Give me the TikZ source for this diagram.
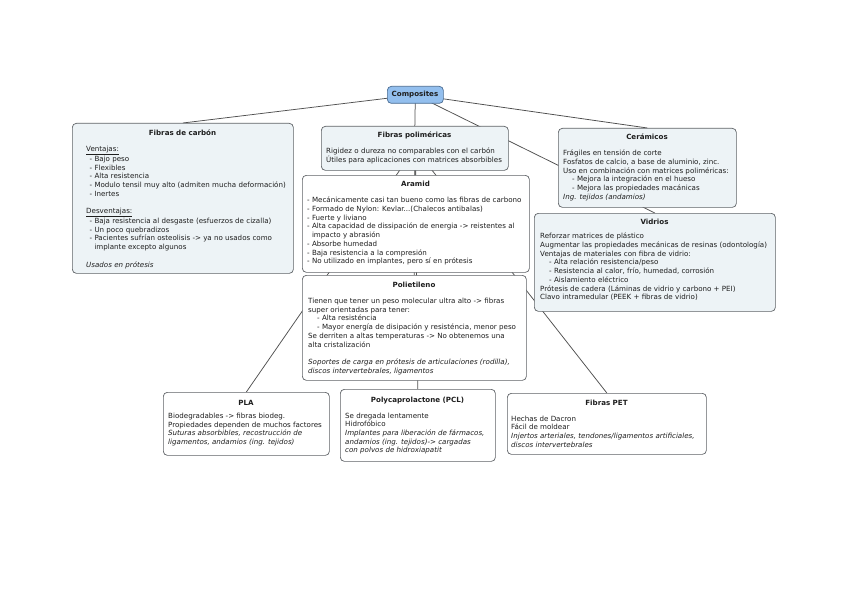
\documentclass[tikz,border=0pt]{standalone}
\usepackage{fontspec}
\setmainfont{DejaVu Sans}
\usetikzlibrary{backgrounds}
\pgfdeclarelayer{bg}
\pgfsetlayers{bg,background,main}
\definecolor{boxline}{HTML}{5E6266}
\definecolor{lightfill}{HTML}{EDF3F6}
\definecolor{compfill}{HTML}{93BFEE}
\definecolor{compline}{HTML}{4A6C92}
\definecolor{linecol}{HTML}{505050}
\definecolor{txtcol}{HTML}{1E1E1E}
\newcommand\fs{\fontsize{7.1pt}{8.7pt}\selectfont}
\newcommand\ind[1]{\hspace*{#1pt}}
\tikzset{
  box/.style={draw=boxline, rounded corners=4pt, line width=0.7pt, anchor=north west, inner sep=0pt},
  lightbox/.style={box, fill=lightfill},
  plainbox/.style={box, fill=white},
  txt/.style={anchor=north west, inner sep=0pt, align=left, font=\fs, text=txtcol,
    execute at begin node={\rule{0pt}{7pt}}, yshift=7pt},
  ttl/.style={anchor=base, inner sep=0pt, font=\fs\bfseries, text=txtcol},
  link/.style={draw=linecol, line width=0.75pt}
}
\begin{document}
\begin{tikzpicture}[x={(1pt,0pt)}, y={(0pt,-1pt)}]
\begin{pgfonlayer}{bg}
\fill[white] (0,0) rectangle (848,599);
\end{pgfonlayer}
\useasboundingbox (0,0) rectangle (848,599);

% boxes
\node[box, fill=compfill, draw=compline, minimum width=56pt, minimum height=17pt] (comp) at (387,86) {};
\node[lightbox, minimum width=221pt, minimum height=150pt] (carbon) at (72,123) {};
\node[lightbox, minimum width=187pt, minimum height=44pt] (fp) at (321,126) {};
\node[plainbox, minimum width=227pt, minimum height=97pt] (aramid) at (302,175) {};
\node[plainbox, minimum width=224pt, minimum height=105pt] (poli) at (302,275) {};
\node[lightbox, minimum width=178pt, minimum height=79pt] (cer) at (558,128) {};
\node[lightbox, minimum width=241pt, minimum height=98pt] (vid) at (534,213) {};
\node[plainbox, minimum width=166pt, minimum height=63pt] (pla) at (163,392) {};
\node[plainbox, minimum width=155pt, minimum height=72pt] (pcl) at (340,389) {};
\node[plainbox, minimum width=199pt, minimum height=61pt] (pet) at (507,393) {};

% connectors
\begin{pgfonlayer}{background}
\draw[link] (comp.center) -- (carbon.north);
\draw[link] (comp.center) -- (fp.north);
\draw[link] (comp.center) -- (cer.north);
\draw[link] (comp.center) -- (vid.north);
\draw[link] (fp.center) -- (aramid.north);
\draw[link] (fp.center) -- (poli.north);
\draw[link] (fp.center) -- (pla.north);
\draw[link] (fp.center) -- (pcl.north);
\draw[link] (fp.center) -- (pet.north);
\end{pgfonlayer}

% titles
\node[ttl] (comp-t) at (415,97) {Composites};
\node[ttl] (carbon-t) at (182.5,135.5) {Fibras de carbón};
\node[ttl] (fp-t) at (414.5,137.5) {Fibras poliméricas};
\node[ttl] (aramid-t) at (415.5,186.5) {Aramid};
\node[ttl] (poli-t) at (414,287.5) {Polietileno};
\node[ttl] (cer-t) at (647,139.5) {Cerámicos};
\node[ttl] (vid-t) at (654.5,224.5) {Vidrios};
\node[ttl] (pla-t) at (246,405.5) {PLA};
\node[ttl] (pcl-t) at (417.5,402.5) {Polycaprolactone (PCL)};
\node[ttl] (pet-t) at (606.5,405.5) {Fibras PET};

% texts (position = baseline of first line)
\node[txt] (carbon-x) at (86,153) {\underline{Ventajas:}\\
\ind{3.5}- Bajo peso\\
\ind{3.5}- Flexibles\\
\ind{3.5}- Alta resistencia\\
\ind{3.5}- Modulo tensil muy alto (admiten mucha deformación)\\
\ind{3.5}- Inertes\\[8.7pt]
\underline{Desventajas:}\\
\ind{3.5}- Baja resistencia al desgaste (esfuerzos de cizalla)\\
\ind{3.5}- Un poco quebradizos\\
\ind{3.5}- Pacientes sufrían osteolisis -> ya no usados como\\
\ind{8.3}implante excepto algunos\\[8.7pt]
\textit{Usados en prótesis}};

\node[txt] (fp-x) at (326,155) {Rigidez o dureza no comparables con el carbón\\
Útiles para aplicaciones con matrices absorbibles};

\node[txt] (aramid-x) at (307,204) {- Mecánicamente casi tan bueno como las fibras de carbono\\
- Formado de Nylon: Kevlar...(Chalecos antibalas)\\
- Fuerte y liviano\\
- Alta capacidad de dissipación de energia -> reistentes al\\
\ind{4.8}impacto y abrasión\\
- Absorbe humedad\\
- Baja resistencia a la compresión\\
- No utilizado en implantes, pero sí en prótesis};

\node[txt] (poli-x) at (308,305) {Tienen que tener un peso molecular ultra alto -> fibras\\
super orientadas para tener:\\
\ind{9}- Alta resisténcia\\
\ind{9}- Mayor energía de disipación y resisténcia, menor peso\\
Se derriten a altas temperaturas -> No obtenemos una\\
alta cristalización\\[8.7pt]
\textit{Soportes de carga en prótesis de articulaciones (rodilla),}\\
\textit{discos intervertebrales, ligamentos}};

\node[txt] (cer-x) at (563,157) {Frágiles en tensión de corte\\
Fosfatos de calcio, a base de aluminio, zinc.\\
Uso en combinación con matrices poliméricas:\\
\ind{9}- Mejora la integración en el hueso\\
\ind{9}- Mejora las propiedades macánicas\\
\textit{Ing. tejidos (andamios)}};

\node[txt] (vid-x) at (540,240) {Reforzar matrices de plástico\\
Augmentar las propiedades mecánicas de resinas (odontología)\\
Ventajas de materiales con fibra de vidrio:\\
\ind{9}- Alta relación resistencia/peso\\
\ind{9}- Resistencia al calor, frío, humedad, corrosión\\
\ind{9}- Aislamiento eléctrico\\
Prótesis de cadera (Láminas de vidrio y carbono + PEI)\\
Clavo intramedular (PEEK + fibras de vidrio)};

\node[txt] (pla-x) at (168,420) {Biodegradables -> fibras biodeg.\\
Propiedades dependen de muchos factores\\
\textit{Suturas absorbibles, recostrucción de}\\
\textit{ligamentos, andamios (ing. tejidos)}};

\node[txt] (pcl-x) at (345,419.5) {Se dregada lentamente\\
Hidrofóbico\\
\textit{Implantes para liberación de fármacos,}\\
\textit{andamios (ing. tejidos)-> cargadas}\\
\textit{con polvos de hidroxiapatit}};

\node[txt] (pet-x) at (511,422.5) {Hechas de Dacron\\
Fácil de moldear\\
\textit{Injertos arteriales, tendones/ligamentos artificiales,}\\
\textit{discos intervertebrales}};
\end{tikzpicture}
\end{document}
